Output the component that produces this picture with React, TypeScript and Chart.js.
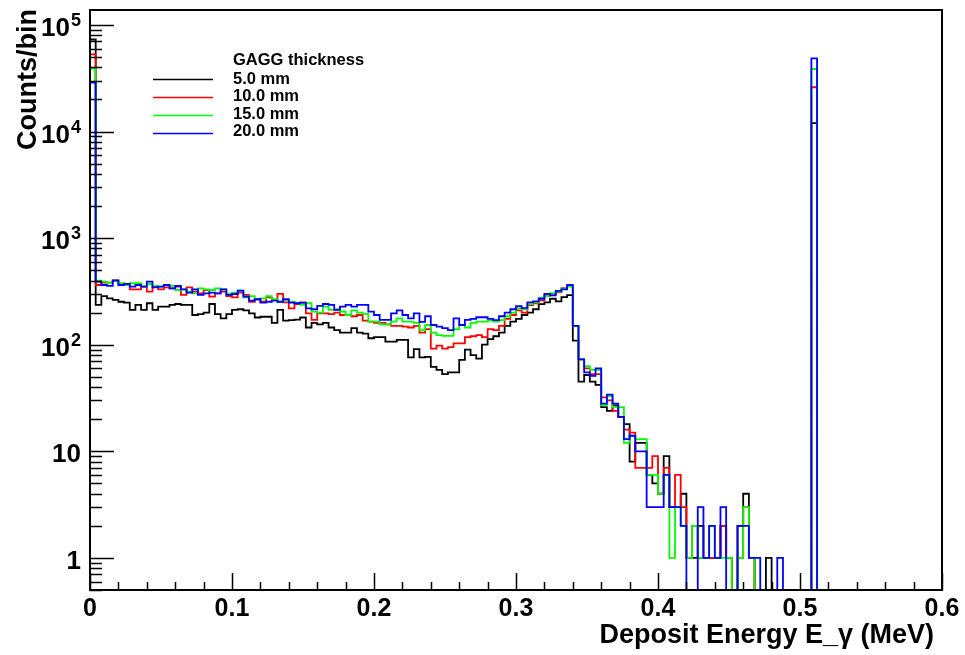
import React, { useEffect, useRef } from 'react';
import { Chart, registerables } from 'chart.js';

Chart.register(...registerables);

// ---------------- data ----------------
const BIN_WIDTH = 0.004; // MeV per bin, 150 bins over 0 .. 0.6
const X_MIN = 0;
const X_MAX = 0.6;
const Y_MIN = 0.5;
const Y_MAX = 1.38e5;

const legendTitle = 'GAGG thickness';
const seriesLabels = ['5.0 mm', '10.0 mm', '15.0 mm', '20.0 mm'];
const seriesColors = ['#000000', '#ff0000', '#00ff00', '#0000ff'];

const counts5mm = [
  73000,
  236, 286, 272, 263, 253, 248, 212, 236, 212, 245,
  212, 228, 228, 236, 241, 236, 236, 190, 194, 200,
  241, 194, 177, 194, 212, 215, 210, 197, 180, 183,
  183, 160, 212, 168, 170, 172, 180, 145, 160, 155,
  160, 145, 137, 130, 130, 143, 130, 127, 115, 118,
  118, 107, 107, 111, 111, 76, 91, 76, 77, 62,
  58, 53, 55, 55, 72, 90, 80, 74, 100, 113,
  120, 130, 150, 165, 175, 190, 200, 215, 240, 250,
  270, 255, 280, 292, 109, 45, 52, 45, 42, 26,
  24, 27, 21, 18, 8, 12, 12, 6, 5, 4,
  9, 3, 3, 4, 1, 1, 2, 1, 1, 1,
  2, 1, 0, 2, 4, 1, 0, 0, 1, 0,
  0, 0, 0, 0, 0, 0, 12000, 0, 0, 0,
  0, 0, 0, 0, 0, 0, 0, 0, 0, 0,
  0, 0, 0, 0, 0, 0, 0, 0, 0,
];

const counts10mm = [
  53000,
  363, 382, 382, 404, 371, 363, 331, 331, 351, 315,
  351, 331, 345, 338, 351, 293, 345, 315, 303, 326,
  282, 303, 315, 286, 278, 308, 293, 253, 267, 253,
  278, 263, 300, 250, 219, 241, 248, 197, 171, 197,
  197, 194, 200, 190, 190, 185, 190, 168, 165, 160,
  160, 155, 150, 150, 148, 145, 150, 130, 140, 92,
  98, 92, 95, 103, 103, 118, 120, 123, 118, 140,
  137, 150, 175, 190, 210, 200, 235, 245, 260, 290,
  300, 310, 340, 355, 150, 73, 60, 53, 53, 32,
  30, 24, 21, 16, 15, 7, 7, 7, 9, 4,
  7, 3, 6, 3, 1, 2, 1, 1, 1, 1,
  2, 1, 0, 1, 3, 1, 0, 0, 0, 0,
  0, 0, 0, 0, 0, 0, 26000, 0, 0, 0,
  0, 0, 0, 0, 0, 0, 0, 0, 0, 0,
  0, 0, 0, 0, 0, 0, 0, 0, 0,
];

const counts15mm = [
  39000,
  399, 390, 382, 399, 377, 363, 377, 377, 351, 371,
  356, 351, 363, 356, 326, 331, 315, 303, 338, 331,
  326, 338, 331, 299, 308, 321, 278, 286, 267, 272,
  286, 267, 253, 263, 253, 248, 236, 245, 204, 200,
  228, 212, 215, 205, 190, 210, 200, 195, 165, 165,
  155, 155, 165, 177, 165, 165, 160, 137, 153, 130,
  123, 121, 121, 140, 153, 145, 160, 165, 165, 168,
  165, 170, 185, 200, 220, 215, 240, 250, 275, 285,
  305, 315, 335, 350, 150, 73, 63, 58, 58, 27,
  33, 26, 26, 12, 14, 13, 13, 6, 6, 4,
  6, 1, 3, 2, 1, 2, 1, 1, 2, 1,
  1, 1, 0, 1, 3, 1, 0, 0, 0, 0,
  0, 0, 0, 0, 0, 0, 38600, 0, 0, 0,
  0, 0, 0, 0, 0, 0, 0, 0, 0, 0,
  0, 0, 0, 0, 0, 0, 0, 0, 0,
];

const counts20mm = [
  28700,
  390, 363, 356, 399, 363, 371, 351, 363, 351, 390,
  345, 351, 363, 338, 356, 331, 308, 331, 293, 303,
  308, 303, 331, 293, 299, 321, 282, 259, 267, 248,
  253, 259, 253, 267, 248, 245, 248, 219, 215, 231,
  241, 236, 212, 228, 236, 228, 236, 236, 204, 190,
  171, 171, 197, 210, 190, 177, 197, 164, 185, 153,
  148, 143, 137, 177, 153, 171, 175, 181, 181, 175,
  170, 185, 200, 215, 230, 220, 250, 255, 270, 300,
  290, 320, 330, 363, 150, 73, 55, 51, 60, 28,
  34, 28, 21, 13, 14, 10, 10, 3, 3, 3,
  6, 3, 3, 2, 0, 0, 3, 1, 2, 1,
  3, 0, 0, 2, 2, 1, 1, 0, 0, 0,
  1, 0, 0, 0, 0, 0, 48600, 0, 0, 0,
  0, 0, 0, 0, 0, 0, 0, 0, 0, 0,
  0, 0, 0, 0, 0, 0, 0, 0, 0,
];

const seriesCounts = [counts5mm, counts10mm, counts15mm, counts20mm];

const xTickValues = [0, 0.1, 0.2, 0.3, 0.4, 0.5, 0.6];
const xTickLabels = ['0', '0.1', '0.2', '0.3', '0.4', '0.5', '0.6'];
const yTickValues = [1, 10, 100, 1000, 10000, 100000];
const yTickBases = ['1', '10', '10', '10', '10', '10'];
const yTickExponents = ['', '', '2', '3', '4', '5'];

const xTitle = 'Deposit Energy E_\u03b3 (MeV)';
const yTitle = 'Counts/bin';

// ---------------- drawing ----------------
const FONT = '"Liberation Sans", Arial, Helvetica, sans-serif';

const rootFramePlugin = {
  id: 'rootFrame',
  afterDatasetsDraw(chart: any) {
    const { ctx, chartArea: a } = chart;
    const xs = chart.scales.x;
    const ys = chart.scales.y;
    ctx.save();
    ctx.strokeStyle = '#000';
    ctx.fillStyle = '#000';

    // x ticks (inside, from bottom)
    ctx.lineWidth = 1.5;
    ctx.beginPath();
    const nMinor = Math.round((X_MAX - X_MIN) / 0.02);
    for (let k = 0; k <= nMinor; k++) {
      const v = X_MIN + k * 0.02;
      const px = Math.round(xs.getPixelForValue(v)) + 0.5;
      const len = k % 5 === 0 ? 17 : 8;
      ctx.moveTo(px, a.bottom);
      ctx.lineTo(px, a.bottom - len);
    }
    // y ticks (inside, from left)
    for (let d = -1; d <= 5; d++) {
      for (let m = 1; m <= 9; m++) {
        const v = m * Math.pow(10, d);
        if (v < Y_MIN || v > Y_MAX) continue;
        const py = Math.round(ys.getPixelForValue(v)) + 0.5;
        const len = m === 1 ? 24 : 12;
        ctx.moveTo(a.left, py);
        ctx.lineTo(a.left + len, py);
      }
    }
    ctx.stroke();

    // frame
    ctx.lineWidth = 2;
    ctx.strokeRect(a.left, a.top, a.right - a.left, a.bottom - a.top);

    // x tick labels
    ctx.font = `bold 25px ${FONT}`;
    ctx.textAlign = 'center';
    ctx.textBaseline = 'alphabetic';
    xTickValues.forEach((v, i) => {
      ctx.fillText(xTickLabels[i], xs.getPixelForValue(v), 616);
    });

    // y tick labels
    const labelRight = 81;
    yTickValues.forEach((v, i) => {
      const py = ys.getPixelForValue(v);
      const base = yTickBases[i];
      const exp = yTickExponents[i];
      ctx.textAlign = 'left';
      ctx.textBaseline = 'alphabetic';
      ctx.font = `bold 18px ${FONT}`;
      const ew = exp ? ctx.measureText(exp).width : 0;
      ctx.font = `bold 26px ${FONT}`;
      const bw = ctx.measureText(base).width;
      const x0 = labelRight - ew - bw - (exp ? 1 : 0);
      ctx.fillText(base, x0, py + 11);
      if (exp) {
        ctx.font = `bold 18px ${FONT}`;
        ctx.fillText(exp, x0 + bw + 1, py + 1);
      }
    });

    // axis titles
    ctx.font = `bold 27px ${FONT}`;
    ctx.textAlign = 'right';
    ctx.textBaseline = 'alphabetic';
    ctx.fillText(xTitle, 934, 643);

    ctx.save();
    ctx.translate(36, 9);
    ctx.rotate(-Math.PI / 2);
    ctx.textAlign = 'right';
    ctx.fillText(yTitle, 0, 0);
    ctx.restore();

    // legend
    ctx.font = `bold 16.5px ${FONT}`;
    ctx.textAlign = 'left';
    ctx.textBaseline = 'alphabetic';
    ctx.fillText(legendTitle, 233, 65);
    chart.data.datasets.forEach((ds: any, i: number) => {
      const yLine = 79.5 + i * 18;
      ctx.strokeStyle = ds.borderColor;
      ctx.lineWidth = 1.6;
      ctx.beginPath();
      ctx.moveTo(153, yLine);
      ctx.lineTo(213, yLine);
      ctx.stroke();
      ctx.fillStyle = '#000';
      ctx.fillText(ds.label, 233, 83.5 + i * 17.6);
    });

    ctx.restore();
  },
};

function toHistogramPoints(counts: number[]) {
  const floorValue = (c: number) => (c > 0 ? c : Y_MIN);
  const pts = counts.map((c, i) => ({ x: X_MIN + i * BIN_WIDTH, y: floorValue(c) }));
  pts.push({ x: X_MIN + counts.length * BIN_WIDTH, y: floorValue(counts[counts.length - 1]) });
  return pts;
}

export default function App() {
  const canvasRef = useRef<HTMLCanvasElement | null>(null);

  useEffect(() => {
    const canvas = canvasRef.current;
    if (!canvas) return;
    const datasets = seriesLabels.map((label, i) => ({
      label,
      data: toHistogramPoints(seriesCounts[i]),
      borderColor: seriesColors[i],
      backgroundColor: seriesColors[i],
      borderWidth: 1.8,
      stepped: 'before' as const,
      pointRadius: 0,
      fill: false,
      order: seriesLabels.length - i,
    }));
    const chart = new Chart(canvas, {
      type: 'line',
      data: { datasets },
      options: {
        animation: false,
        responsive: false,
        maintainAspectRatio: false,
        layout: { padding: { left: 90, right: 23, top: 10, bottom: 65 } },
        scales: {
          x: { type: 'linear', min: X_MIN, max: X_MAX, display: false },
          y: { type: 'logarithmic', min: Y_MIN, max: Y_MAX, display: false },
        },
        plugins: { legend: { display: false }, tooltip: { enabled: false } },
        elements: { line: { tension: 0 } },
      },
      plugins: [rootFramePlugin],
    });
    return () => chart.destroy();
  }, []);

  return (
    <div style={{ position: 'fixed', left: 0, top: 0, width: 965, height: 655, background: '#ffffff' }}>
      <canvas ref={canvasRef} width={965} height={655} style={{ display: 'block' }} />
    </div>
  );
}
